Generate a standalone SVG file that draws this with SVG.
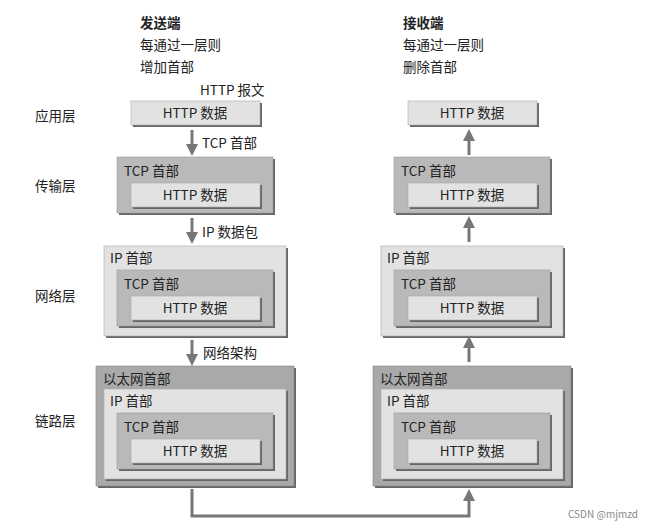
<svg xmlns="http://www.w3.org/2000/svg" width="645" height="529" viewBox="0 0 645 529">
<style>
text{font-family:"Noto Sans CJK SC","Noto Sans",sans-serif;font-size:13.5px;fill:#222}
.b{font-weight:bold}
.sh{fill:#666}
.l{fill:#e2e2e2;stroke:#aaa;stroke-width:.6}
.m{fill:#b9b9b9;stroke:#999;stroke-width:.6}
.d{fill:#a9a9a9;stroke:#888;stroke-width:.6}
.c{stroke:#777;stroke-width:3;fill:none}
</style>
<defs>
<marker id="a" markerWidth="4" markerHeight="4" refX="2" refY="2" orient="auto" markerUnits="strokeWidth"><path d="M0,0L4,2L0,4z" fill="#777"/></marker>
<g id="http"><rect class="sh" x="2" y="2" width="129" height="24"/><rect class="l" x="0" y="0" width="129" height="24"/><text x="64" y="17" text-anchor="middle">HTTP 数据</text></g>
<g id="tcp"><rect class="sh" x="2" y="2" width="156" height="56"/><rect class="m" x="0" y="0" width="156" height="56"/><text x="7" y="19">TCP 首部</text><use href="#http" x="14" y="26"/></g>
<g id="ip"><rect class="sh" x="2" y="2" width="182" height="90"/><rect class="l" x="0" y="0" width="182" height="90"/><text x="6" y="17">IP 首部</text><use href="#tcp" x="13" y="24"/></g>
<g id="eth"><rect class="sh" x="2" y="2" width="198" height="120"/><rect class="d" x="0" y="0" width="198" height="120"/><text x="7" y="18">以太网首部</text><use href="#ip" x="8" y="23"/></g>
</defs>
<g id="titles">
<text x="140" y="28" class="b">发送端</text><text x="140" y="50">每通过一层则</text><text x="140" y="72">增加首部</text>
<text x="403" y="28" class="b">接收端</text><text x="403" y="50">每通过一层则</text><text x="403" y="72">删除首部</text>
<text x="200" y="95">HTTP 报文</text>
</g>
<g id="layers">
<text x="35" y="121">应用层</text><text x="35" y="191">传输层</text><text x="35" y="301">网络层</text><text x="35" y="426">链路层</text>
</g>
<g id="send-app"><use href="#http" x="131" y="101"/></g>
<g id="send-tcp"><use href="#tcp" x="117" y="157"/></g>
<g id="send-ip"><use href="#ip" x="104" y="246"/></g>
<g id="send-eth"><use href="#eth" x="96" y="366"/></g>
<g id="recv-app"><use href="#http" x="408" y="101"/></g>
<g id="recv-tcp"><use href="#tcp" x="394" y="157"/></g>
<g id="recv-ip"><use href="#ip" x="381" y="246"/></g>
<g id="recv-eth"><use href="#eth" x="373" y="366"/></g>
<g id="connectors">
<path class="c" d="M192,130V150" marker-end="url(#a)"/>
<path class="c" d="M192,218V238" marker-end="url(#a)"/>
<path class="c" d="M192,340V360" marker-end="url(#a)"/>
<path class="c" d="M469,155V135" marker-end="url(#a)"/>
<path class="c" d="M469,242V222" marker-end="url(#a)"/>
<path class="c" d="M469,362V342" marker-end="url(#a)"/>
<path class="c" d="M192,489V516H469V495" marker-end="url(#a)"/>
<text x="202" y="148">TCP 首部</text>
<text x="202" y="237">IP 数据包</text>
<text x="203" y="358">网络架构</text>
</g>
<text x="638" y="518" text-anchor="end" style="font-size:10px;fill:#888">CSDN @mjmzd</text>
</svg>
